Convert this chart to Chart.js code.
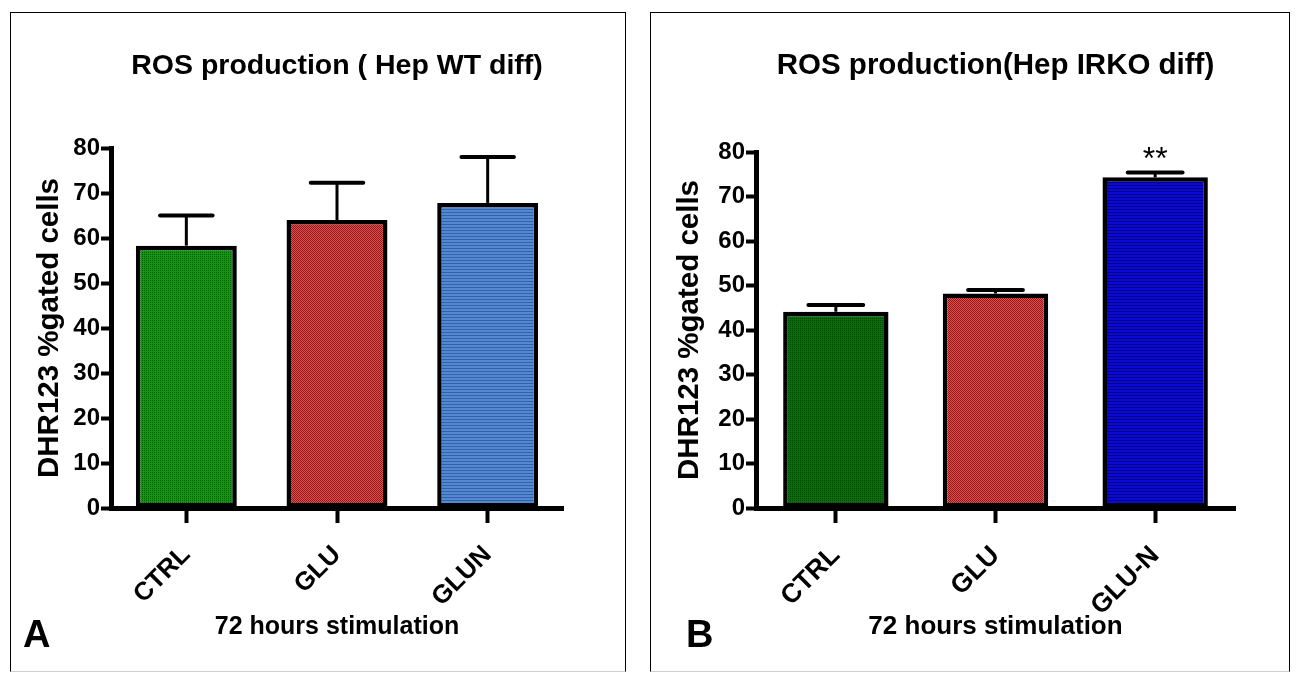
<!DOCTYPE html>
<html>
<head>
<meta charset="utf-8">
<script src="https://cdn.jsdelivr.net/npm/chart.js@4.4.1/dist/chart.umd.min.js"></script>
<style>
  body { margin: 0; background: #fff; width: 1296px; height: 673px; position: relative; overflow: hidden; }
  .panel { position: absolute; top: 12px; height: 660px; box-sizing: border-box; border: 1px solid #000; border-bottom: 1px solid #d0d0d0; }
  canvas { position: absolute; top: 0; }
</style>
</head>
<body>
<div class="panel" style="left:10px;width:616px"></div>
<div class="panel" style="left:650px;width:640px"></div>
<canvas id="chartA" width="640" height="673" style="left:0"></canvas>
<canvas id="chartB" width="656" height="673" style="left:640px"></canvas>
<script>
// panel A - Hep WT diff
var categoriesA = ['CTRL', 'GLU', 'GLUN']
var meansA = [58.3, 64.0, 67.8]
var errorsA = [6.7, 8.3, 10.2]

// panel B - Hep IRKO diff
var categoriesB = ['CTRL', 'GLU', 'GLU-N']
var meansB = [44.1, 48.2, 74.3]
var errorsB = [1.5, 0.8, 1.1]
var starsB = ['', '', '**']

var yMin = 0
var yMax = 80
var yStep = 10

var FONT = '"Liberation Sans", Arial, sans-serif'
Chart.defaults.font.family = FONT
Chart.defaults.color = '#000'

// little textures like the prism fills
function pattern(w, h, base, dark, cells) {
  var c = document.createElement('canvas')
  c.width = w
  c.height = h
  var g = c.getContext('2d')
  g.fillStyle = base
  g.fillRect(0, 0, w, h)
  g.fillStyle = dark
  cells.forEach(function (p) { g.fillRect(p[0], p[1], 1, 1) })
  return g.createPattern(c, 'repeat')
}

var redFill = pattern(2, 2, '#ec4a4a', '#862020', [[0, 0], [1, 1]])
var fillsA = [
  pattern(2, 2, '#109810', '#006000', [[0, 0]]),
  redFill,
  pattern(1, 3, '#5489d2', '#3162aa', [[0, 2]]),
]
var fillsB = [
  pattern(2, 2, '#0b6c0b', '#004a00', [[0, 0]]),
  redFill,
  pattern(1, 3, '#0a0ad0', '#00008c', [[0, 2]]),
]

// error bars, stars, title and panel letter
var decor = {
  id: 'decor',
  afterDatasetsDraw: function (chart, args, o) {
    var ctx = chart.ctx
    var xs = chart.scales.x
    var ys = chart.scales.y
    var meta = chart.getDatasetMeta(0)
    var a = chart.chartArea
    ctx.save()
    ctx.strokeStyle = '#000'
    ctx.fillStyle = '#000'
    o.means.forEach(function (m, i) {
      var x = xs.getPixelForValue(i)
      var y0 = ys.getPixelForValue(m)
      var y1 = ys.getPixelForValue(m + o.errors[i])
      var half = meta.data[i].width * 0.26
      ctx.lineWidth = 3
      ctx.beginPath()
      ctx.moveTo(x, y0)
      ctx.lineTo(x, y1)
      ctx.stroke()
      ctx.lineWidth = 4
      ctx.lineCap = 'round'
      ctx.beginPath()
      ctx.moveTo(x - half, y1)
      ctx.lineTo(x + half, y1)
      ctx.stroke()
      ctx.lineCap = 'butt'
      if (o.stars && o.stars[i]) {
        ctx.font = '32px ' + FONT
        ctx.textAlign = 'center'
        ctx.textBaseline = 'alphabetic'
        ctx.fillText(o.stars[i], x, y1 - 3)
      }
    })
    ctx.font = 'bold ' + o.titleSize + 'px ' + FONT
    ctx.textAlign = 'center'
    ctx.textBaseline = 'alphabetic'
    ctx.fillText(o.title, (a.left + a.right) / 2, 73.5)
    ctx.font = 'bold 38px ' + FONT
    ctx.textAlign = 'left'
    ctx.fillText(o.letter, o.letterX, 647)
    ctx.restore()
  },
}

function makeChart(id, cats, means, errors, fills, cfg) {
  return new Chart(id, {
    type: 'bar',
    data: {
      labels: cats,
      datasets: [
        {
          data: means,
          backgroundColor: fills,
          borderColor: '#000',
          borderWidth: 4.5,
          borderSkipped: false,
          categoryPercentage: 1,
          barPercentage: cfg.barPct,
        },
      ],
    },
    options: {
      responsive: false,
      animation: false,
      events: [],
      layout: { padding: { left: 0, right: cfg.padRight, top: cfg.top, bottom: 0 } },
      plugins: {
        legend: { display: false },
        tooltip: { enabled: false },
        decor: {
          means: means,
          errors: errors,
          stars: cfg.stars,
          title: cfg.title,
          titleSize: cfg.titleSize,
          letter: cfg.letter,
          letterX: cfg.letterX,
        },
      },
      scales: {
        x: {
          offset: true,
          afterFit: function (s) { s.height = 673 - cfg.bottom },
          border: { display: true, color: '#000', width: 5 },
          grid: { offset: false, drawOnChartArea: false, drawTicks: true, tickLength: 15, tickWidth: 4, tickColor: '#000' },
          ticks: { minRotation: 45, maxRotation: 45, padding: 17, font: { size: cfg.xTickSize, weight: 'bold' } },
          title: { display: true, text: '72 hours stimulation', font: { size: cfg.xTitleSize, weight: 'bold' }, padding: { top: 0, bottom: 31 } },
        },
        y: {
          min: yMin,
          max: yMax,
          afterFit: function (s) { s.width = cfg.left },
          border: { display: true, color: '#000', width: 5 },
          grid: { drawOnChartArea: false, drawTicks: true, tickLength: 10, tickWidth: 4, tickColor: '#000' },
          ticks: { stepSize: yStep, padding: 1, font: { size: 24, weight: 'bold' } },
          title: { display: true, text: 'DHR123 %gated cells', font: { size: 29.5, weight: 'bold' }, padding: { top: 32, bottom: 0 } },
        },
      },
    },
    plugins: [decor],
  })
}

makeChart('chartA', categoriesA, meansA, errorsA, fillsA, {
  left: 111, padRight: 640 - 563, top: 148, bottom: 508,
  barPct: 0.67, xTickSize: 25.5, xTitleSize: 25,
  title: 'ROS production ( Hep WT diff)', titleSize: 28.5,
  letter: 'A', letterX: 23, stars: null,
})

makeChart('chartB', categoriesB, meansB, errorsB, fillsB, {
  left: 116, padRight: 656 - 595, top: 152, bottom: 508,
  barPct: 0.66, xTickSize: 26.5, xTitleSize: 26,
  title: 'ROS production(Hep IRKO diff)', titleSize: 29.5,
  letter: 'B', letterX: 686 - 640, stars: starsB,
})
</script>
</body>
</html>
